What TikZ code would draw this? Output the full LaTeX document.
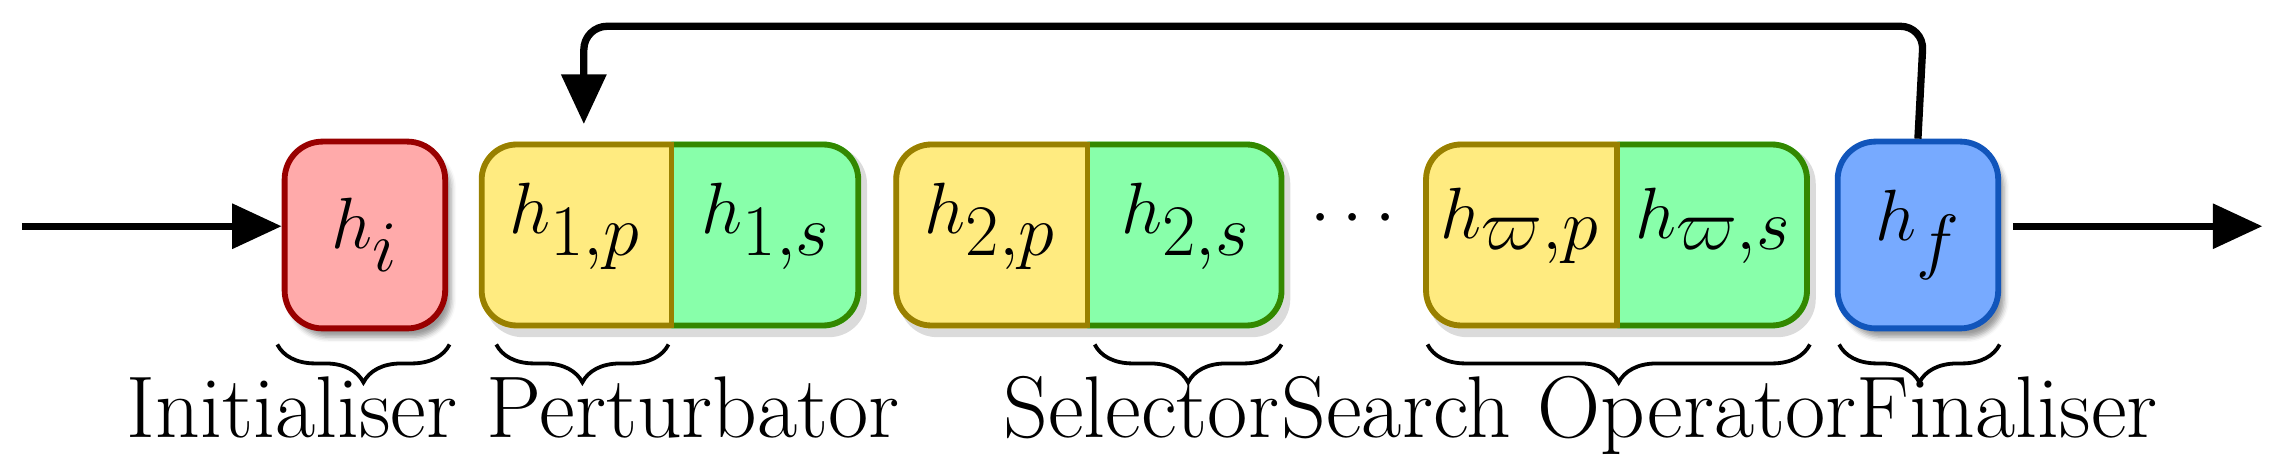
\documentclass[tikz,border=0pt]{standalone}
\usetikzlibrary{arrows.meta,shadows.blur,decorations.pathreplacing,calc}
\definecolor{rf}{HTML}{FFAAAA}\definecolor{rb}{HTML}{990000}
\definecolor{yf}{HTML}{FFEB80}\definecolor{yb}{HTML}{998000}
\definecolor{gf}{HTML}{88FFAA}\definecolor{gb}{HTML}{338800}
\definecolor{bf}{HTML}{77AAFF}\definecolor{bb}{HTML}{1155BB}
\tikzset{
  lbl/.style={font=\fontsize{30}{34}\selectfont, anchor=base},
  mth/.style={font=\fontsize{44}{48}\selectfont},
  onebox/.style={rounded corners=13pt, line width=2pt, inner sep=0pt, minimum width=55pt, minimum height=64pt, blur shadow={shadow xshift=2pt,shadow yshift=-3pt}},
  arr/.style={line width=2.5pt, -{Triangle[length=17pt,width=15pt]}},
  brc/.style={decorate, decoration={brace,mirror,amplitude=13pt}, line width=1.3pt},
}
\newcommand{\splitbox}[6]{% x1 xm x2 name text1 text2
  \fill[black!40, opacity=0.35, rounded corners=13pt] (#1+4,100) rectangle (#3+4,231);
  \begin{scope}
    \clip[rounded corners=13pt] (#1,97) rectangle (#3,225);
    \fill[yf] (#1,90) rectangle (#2,230);
    \fill[gf] (#2,90) rectangle (#3,230);
    \begin{scope}\clip (#1-5,90) rectangle (#2,230);
      \draw[yb, line width=4pt, rounded corners=13pt] (#1,97) rectangle (#3,225);\end{scope}
    \begin{scope}\clip (#2,90) rectangle (#3+5,230);
      \draw[gb, line width=4pt, rounded corners=13pt] (#1,97) rectangle (#3,225);\end{scope}
    \draw[yb, line width=2pt] (#2,97) -- (#2,225);
  \end{scope}
  \node[mth, inner sep=0pt] (#4p) at ($(#1,155)!0.5!(#2,155)$) {$#5$};
  \node[mth, inner sep=0pt] (#4s) at ($(#2,155)!0.5!(#3,155)$) {$#6$};
  \coordinate (#4L) at (#1,161);
}
\begin{document}
\begin{tikzpicture}[x=0.5pt,y=-0.5pt]
\useasboundingbox (0,0) rectangle (1560,320);
\node[onebox, fill=rf, draw=rb, mth] (hi) at (250,161) {$h_i$};
\splitbox{328}{460}{590}{ha}{h_{1,p}}{h_{1,s}}
\splitbox{612}{745}{880}{hb}{h_{2,p}}{h_{2,s}}
\splitbox{975}{1108}{1240}{hc}{h_{\varpi,p}}{h_{\varpi,s}}
\node[onebox, fill=bf, draw=bb, mth] (hf) at (1314,161) {$h_f$};
\node[mth] (dots) at (927,150) {$\cdots$};
\coordinate (in) at (15,155);
\coordinate (out) at (1550,155);
\coordinate (tip) at (400,85);
\draw[arr] (in) -- (in -| hi.west);
\draw[arr] (out -| hf.east) ++(8,0) -- (out);
\draw[arr, rounded corners=8pt] (hf.north) -- (1318,18) -- (400,18) -- (tip);
\draw[brc] (190,236) -- (308,236);
\draw[brc] (340,236) -- (458,236);
\draw[brc] (750,236) -- (878,236);
\draw[brc] (978,236) -- (1240,236);
\draw[brc] (1260,236) -- (1370,236);
\node[lbl] (l1) at (200,300) {Initialiser};
\node[lbl] (l2) at (475,300) {Perturbator};
\node[lbl] (l3) at (782,300) {Selector};
\node[lbl] (l4) at (1075,300) {Search Operator};
\node[lbl] (l5) at (1375,300) {Finaliser};
\end{tikzpicture}
\end{document}
